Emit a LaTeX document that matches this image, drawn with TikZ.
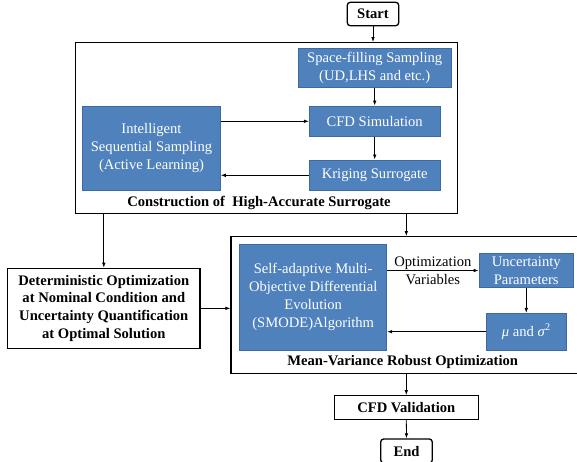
\documentclass[tikz,border=0pt]{standalone}
\usepackage{fontspec}
\setmainfont{Liberation Serif}
\usetikzlibrary{arrows.meta}
\definecolor{boxblue}{HTML}{4F81BD}
\definecolor{edgeblue}{HTML}{3C6A9E}
\begin{document}
\begin{tikzpicture}[x=1pt,y=-1pt,
  every node/.style={font=\fontsize{14.6}{17.8}\selectfont, inner sep=0pt, align=center},
  bluebox/.style={draw=edgeblue, line width=0.9pt, fill=boxblue, text=white},
  whitebox/.style={draw=black, line width=1.3pt, fill=white, font=\fontsize{14.6}{17.8}\selectfont\bfseries},
  termbox/.style={whitebox, rounded corners=3pt},
  groupbox/.style={draw=black, line width=1.3pt},
  grouplabel/.style={font=\fontsize{14.6}{17.8}\selectfont\bfseries},
  arr/.style={draw=black, line width=0.8pt, -{Latex[length=5pt,width=3.6pt]}}
]
\useasboundingbox (0,0) rectangle (577,461);

% group boxes
\node[groupbox, minimum width=382pt, minimum height=170.6pt] (outer1) at (266.7,128) {};
\node[groupbox, minimum width=369pt, minimum height=136.6pt] (mv) at (415.5,305) {};

% terminals
\node[termbox, minimum width=51.4pt, minimum height=23.4pt] (start) at (373,14) {Start};
\node[termbox, minimum width=51.6pt, minimum height=24pt] (end) at (406.5,451) {End};

% surrogate construction
\node[bluebox, minimum width=152.7pt, minimum height=39pt] (space) at (374.7,67.8) {Space-filling Sampling\\(UD,LHS and etc.)};
\node[bluebox, minimum width=130.7pt, minimum height=30.7pt] (cfd) at (374.7,121.3) {CFD Simulation};
\node[bluebox, minimum width=130.7pt, minimum height=30.7pt] (krig) at (374.7,175.3) {Kriging Surrogate};
\node[bluebox, minimum width=137.6pt, minimum height=84.7pt] (intel) at (151.5,148.3) {Intelligent\\Sequential Sampling\\(Active Learning)};
\node[grouplabel] (lab1) at (259,203) {Construction of~ High-Accurate Surrogate};

% deterministic
\node[whitebox, minimum width=192.3pt, minimum height=80pt] (det) at (103.8,308.3) {Deterministic Optimization\\at Nominal Condition and\\Uncertainty Quantification\\at Optimal Solution};

% robust optimization
\node[bluebox, minimum width=147pt, minimum height=106pt] (smode) at (313.2,297) {Self-adaptive Multi-\\Objective Differential\\Evolution\\(SMODE)Algorithm};
\node[bluebox, minimum width=94.3pt, minimum height=34.4pt] (unc) at (526.2,270.5) {Uncertainty\\Parameters};
\node[bluebox, minimum width=79.3pt, minimum height=36.7pt] (mu) at (526.3,331.7) {\textit{μ} and \textit{σ}\textsuperscript{2}};
\node[grouplabel] (lab2) at (402.7,362.3) {Mean-Variance Robust Optimization};

% validation
\node[whitebox, minimum width=144pt, minimum height=23.6pt] (cfdv) at (406.3,407.5) {CFD Validation};

% connectors
\draw[arr] (start.south) -- (start.south |- outer1.north);
\draw[arr] (space.south) -- (cfd.north);
\draw[arr] (cfd.south) -- (krig.north);
\draw[arr] (intel.east |- cfd.west) -- (cfd.west);
\draw[arr] (krig.west) -- (krig.west -| intel.east);
\draw[arr] (det.north |- outer1.south) -- (det.north);
\draw[arr] (cfdv.north |- outer1.south) -- (cfdv.north |- mv.north);
\draw[arr] (det.east) -- (det.east -| mv.west);
\draw[arr] (smode.east |- unc.west) -- node[font=\fontsize{14.6}{17.8}\selectfont] (optvar) {Optimization\\Variables} (unc.west);
\draw[arr] (mu.north |- unc.south) -- (mu.north);
\draw[arr] (mu.west) -- (mu.west -| smode.east);
\draw[arr] (cfdv.north |- mv.south) -- (cfdv.north);
\draw[arr] (cfdv.south) -- (end.north);
\end{tikzpicture}
\end{document}
